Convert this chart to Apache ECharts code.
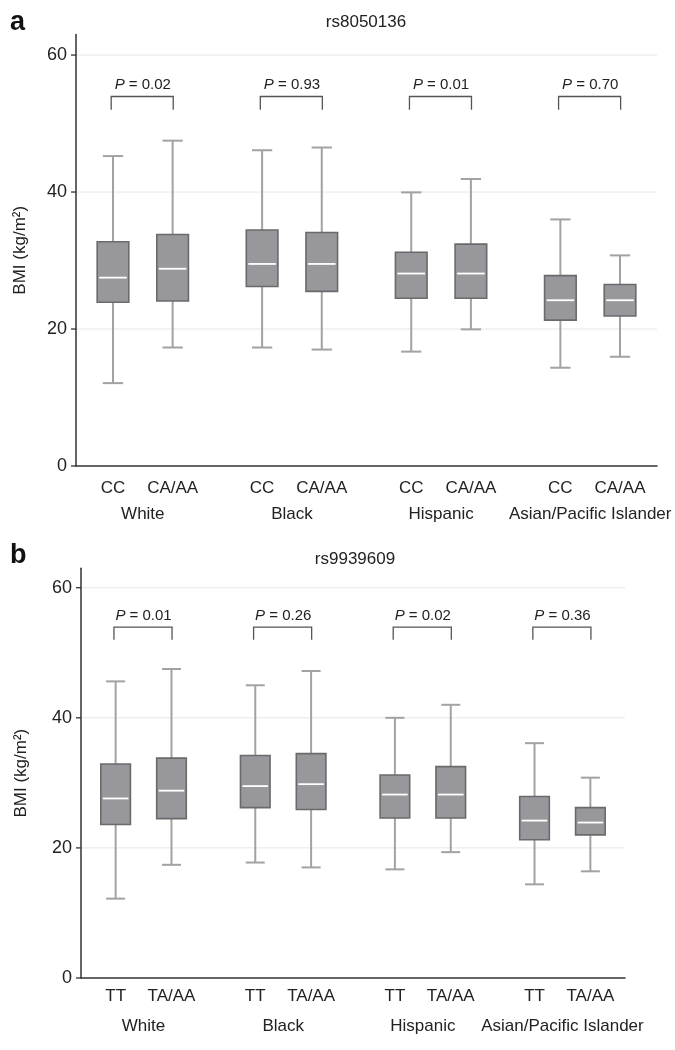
<!DOCTYPE html>
<html>
<head>
<meta charset="utf-8">
<script src="https://cdn.jsdelivr.net/npm/echarts@6/dist/echarts.min.js"></script>
<style>
html,body{margin:0;padding:0;background:#fff;}
#chart{width:675px;height:1050px;}
</style>
</head>
<body>
<div id="chart"></div>
<script>
// ---------- data ----------
const groups = ['White', 'Black', 'Hispanic', 'Asian/Pacific Islander'];
const genotypesA = ['CC', 'CA/AA'];
const genotypesB = ['TT', 'TA/AA'];
const snpA = 'rs8050136';
const snpB = 'rs9939609';
const pValuesA = ['0.02', '0.93', '0.01', '0.70'];
const pValuesB = ['0.01', '0.26', '0.02', '0.36'];
const yTickValues = [0, 20, 40, 60];

// panel a (order: White CC, White CA/AA, Black CC, Black CA/AA, Hispanic ..., Asian ...)
const lowA  = [12.1, 17.3, 17.3, 17.0, 16.7, 19.95, 14.35, 15.95];
const q1A   = [23.9, 24.1, 26.2, 25.5, 24.5, 24.5, 21.3, 21.9];
const medA  = [27.5, 28.8, 29.5, 29.5, 28.1, 28.1, 24.2, 24.2];
const q3A   = [32.75, 33.8, 34.45, 34.1, 31.2, 32.4, 27.8, 26.5];
const highA = [45.25, 47.5, 46.1, 46.5, 39.95, 41.9, 36.0, 30.75];

// panel b
const lowB  = [12.2, 17.4, 17.75, 17.0, 16.7, 19.35, 14.4, 16.4];
const q1B   = [23.6, 24.5, 26.2, 25.9, 24.6, 24.6, 21.25, 22.0];
const medB  = [27.6, 28.8, 29.5, 29.8, 28.2, 28.2, 24.2, 23.9];
const q3B   = [32.9, 33.8, 34.2, 34.5, 31.2, 32.5, 27.9, 26.2];
const highB = [45.6, 47.5, 45.0, 47.2, 40.0, 42.0, 36.1, 30.8];

// ---------- layout helpers ----------
const GROUP_STEP = 2.5;
const X_MIN = -0.62, X_MAX = 9.12;
const Y_MAX = 63;
const BOX_W = 0.53, CAP_W = 0.34;
const FONT = '"Liberation Sans", Arial, Helvetica, sans-serif';

function pos(g, m) { return g * GROUP_STEP + m; }
const boxPositions = [];
groups.forEach((g, gi) => { [0, 1].forEach(m => boxPositions.push(pos(gi, m))); });

function boxData(low, q1, med, q3, high) {
  return boxPositions.map((x, i) => [x, low[i], q1[i], med[i], q3[i], high[i]]);
}

function renderBox(params, api) {
  const x = api.value(0);
  const low = api.coord([x, api.value(1)]);
  const q1 = api.coord([x, api.value(2)]);
  const med = api.coord([x, api.value(3)]);
  const q3 = api.coord([x, api.value(4)]);
  const high = api.coord([x, api.value(5)]);
  const bw = api.size([BOX_W, 0])[0];
  const cw = api.size([CAP_W, 0])[0];
  const cx = low[0];
  const wStyle = { stroke: '#a2a2a4', lineWidth: 2 };
  return {
    type: 'group',
    children: [
      { type: 'line', shape: { x1: cx, y1: high[1], x2: cx, y2: q3[1] }, style: wStyle },
      { type: 'line', shape: { x1: cx, y1: q1[1], x2: cx, y2: low[1] }, style: wStyle },
      { type: 'line', shape: { x1: cx - cw / 2, y1: high[1], x2: cx + cw / 2, y2: high[1] }, style: wStyle },
      { type: 'line', shape: { x1: cx - cw / 2, y1: low[1], x2: cx + cw / 2, y2: low[1] }, style: wStyle },
      { type: 'rect', shape: { x: cx - bw / 2, y: q3[1], width: bw, height: q1[1] - q3[1] },
        style: { fill: '#98989c', stroke: '#6a6a6c', lineWidth: 1.6 } },
      { type: 'line', shape: { x1: cx - bw / 2 + 2, y1: med[1], x2: cx + bw / 2 - 2, y2: med[1] },
        style: { stroke: '#ffffff', lineWidth: 1.8 } }
    ]
  };
}

function gridSeries(idx) {
  return {
    type: 'custom', xAxisIndex: idx, yAxisIndex: idx, z: 1, silent: true, clip: false,
    data: yTickValues.map(v => [X_MIN, v]),
    renderItem: function (params, api) {
      const v = yTickValues[params.dataIndex];
      const p1 = api.coord([X_MIN, v]);
      const p2 = api.coord([X_MAX, v]);
      const children = [
        { type: 'line', shape: { x1: p1[0] - 5, y1: p1[1], x2: p1[0], y2: p1[1] },
          style: { stroke: '#333', lineWidth: 1.3 } }
      ];
      if (v > 0) {
        children.push({ type: 'line', shape: { x1: p1[0] + 1, y1: p1[1], x2: p2[0], y2: p2[1] },
          style: { stroke: '#e8e8e8', lineWidth: 1 } });
      }
      return { type: 'group', children: children };
    }
  };
}

function labelSeries(idx, genotypes, genoOffset, groupOffset) {
  return {
    type: 'custom', xAxisIndex: idx, yAxisIndex: idx, z: 5, silent: true, clip: false,
    data: groups.map((g, gi) => [pos(gi, 0), 0]),
    renderItem: function (params, api) {
      const gi = params.dataIndex;
      const a = api.coord([pos(gi, 0), 0]);
      const b = api.coord([pos(gi, 1), 0]);
      const ts = { fontSize: 17, fontFamily: FONT, fill: '#222', align: 'center', verticalAlign: 'middle' };
      return {
        type: 'group',
        children: [
          { type: 'text', x: a[0], y: a[1] + genoOffset, style: Object.assign({ text: genotypes[0] }, ts) },
          { type: 'text', x: b[0], y: b[1] + genoOffset, style: Object.assign({ text: genotypes[1] }, ts) },
          { type: 'text', x: (a[0] + b[0]) / 2, y: a[1] + groupOffset, style: Object.assign({ text: groups[gi] }, ts) }
        ]
      };
    }
  };
}

function pSeries(idx, pValues) {
  return {
    type: 'custom', xAxisIndex: idx, yAxisIndex: idx, z: 5, silent: true, clip: false,
    data: groups.map((g, gi) => [pos(gi, 0), 54]),
    renderItem: function (params, api) {
      const gi = params.dataIndex;
      const l0 = api.coord([pos(gi, 0) - 0.03, 52]);
      const l1 = api.coord([pos(gi, 0) - 0.03, 53.95]);
      const r1 = api.coord([pos(gi, 1) + 0.01, 53.95]);
      const r0 = api.coord([pos(gi, 1) + 0.01, 52]);
      const t = api.coord([(pos(gi, 0) + pos(gi, 1)) / 2, 55.65]);
      return {
        type: 'group',
        children: [
          { type: 'polyline', shape: { points: [l0, l1, r1, r0] },
            style: { stroke: '#555', lineWidth: 1.3, fill: null } },
          { type: 'text', x: t[0], y: t[1],
            style: { text: '{i|P} = ' + pValues[gi], fontSize: 15, fontFamily: FONT, fill: '#222',
              align: 'center', verticalAlign: 'middle',
              rich: { i: { fontStyle: 'italic', fontSize: 15, fontFamily: FONT, fill: '#222' } } } }
        ]
      };
    }
  };
}

function xAxisCfg(idx) {
  return {
    type: 'value', gridIndex: idx, min: X_MIN, max: X_MAX,
    axisLine: { show: true, onZero: false, lineStyle: { color: '#333', width: 1.5 } },
    axisTick: { show: false }, axisLabel: { show: false }, splitLine: { show: false }
  };
}
function yAxisCfg(idx, nameGap) {
  return {
    type: 'value', gridIndex: idx, min: 0, max: Y_MAX, interval: 20,
    name: 'BMI (kg/m²)', nameLocation: 'middle', nameGap: nameGap,
    nameTextStyle: { fontSize: 17, fontFamily: FONT, color: '#222' },
    axisLine: { show: true, onZero: false, lineStyle: { color: '#333', width: 1.5 } },
    axisTick: { show: false }, splitLine: { show: false },
    axisLabel: { fontSize: 18, fontFamily: FONT, color: '#222', margin: 9,
      formatter: v => (v % 20 === 0 ? String(v) : '') }
  };
}

const chart = echarts.init(document.getElementById('chart'), null, { renderer: 'canvas' });
chart.setOption({
  backgroundColor: '#fff',
  animation: false,
  graphic: [
    { type: 'text', left: 10, top: 9, style: { text: 'a', fontSize: 27, fontWeight: 'bold', fontFamily: FONT, fill: '#111' } },
    { type: 'text', left: 10, top: 542, style: { text: 'b', fontSize: 27, fontWeight: 'bold', fontFamily: FONT, fill: '#111' } },
    { type: 'text', x: 366, y: 22, style: { text: snpA, fontSize: 17, fontFamily: FONT, fill: '#222', align: 'center', verticalAlign: 'middle' } },
    { type: 'text', x: 355, y: 559, style: { text: snpB, fontSize: 17, fontFamily: FONT, fill: '#222', align: 'center', verticalAlign: 'middle' } }
  ],
  grid: [
    { left: 76, top: 34.5, width: 581, height: 431.5 },
    { left: 81, top: 568.2, width: 544, height: 409.8 }
  ],
  xAxis: [xAxisCfg(0), xAxisCfg(1)],
  yAxis: [yAxisCfg(0, 47), yAxisCfg(1, 51)],
  series: [
    gridSeries(0), gridSeries(1),
    { type: 'custom', xAxisIndex: 0, yAxisIndex: 0, z: 3, renderItem: renderBox,
      encode: { x: 0, y: [1, 2, 3, 4, 5] }, data: boxData(lowA, q1A, medA, q3A, highA) },
    { type: 'custom', xAxisIndex: 1, yAxisIndex: 1, z: 3, renderItem: renderBox,
      encode: { x: 0, y: [1, 2, 3, 4, 5] }, data: boxData(lowB, q1B, medB, q3B, highB) },
    labelSeries(0, genotypesA, 22.5, 48),
    labelSeries(1, genotypesB, 18.5, 48),
    pSeries(0, pValuesA),
    pSeries(1, pValuesB)
  ]
});
</script>
</body>
</html>
